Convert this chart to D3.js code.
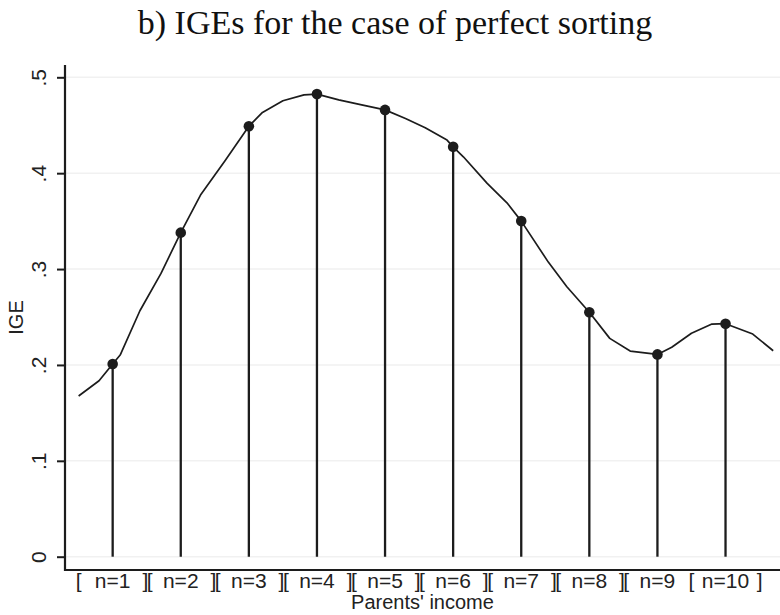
<!DOCTYPE html>
<html>
<head>
<meta charset="utf-8">
<script src="https://cdn.jsdelivr.net/npm/d3@7"></script>
<style>
  body { margin: 0; background: #fff; }
  text { font-family: "Liberation Sans", Arial, sans-serif; fill: #222; }
  .title { font-family: "Liberation Serif", "DejaVu Serif", serif; }
</style>
</head>
<body>
<div id="chart"></div>
<script>
// IGE at each income group (stems + dots)
var groups = [1, 2, 3, 4, 5, 6, 7, 8, 9, 10];
var groupIGE = [0.201, 0.338, 0.449, 0.4825, 0.466, 0.4275, 0.350, 0.255, 0.211, 0.243];

// the continuous IGE curve, x in group units
var curveX = [0.50, 0.80, 1.00, 1.11, 1.40, 1.71, 2.00, 2.29, 2.65, 3.00, 3.20, 3.50, 3.81, 4.00,
              4.32, 4.64, 5.00, 5.30, 5.59, 5.91, 6.00, 6.15, 6.50, 6.79, 7.00, 7.40, 7.67, 8.00,
              8.30, 8.60, 9.00, 9.21, 9.50, 9.80, 10.00, 10.40, 10.70];
var curveY = [0.1676, 0.1835, 0.201, 0.2103, 0.2565, 0.2955, 0.338, 0.3772, 0.413, 0.449, 0.4634, 0.4755, 0.4817, 0.4825,
              0.4765, 0.4715, 0.466, 0.4571, 0.4473, 0.4345, 0.4275, 0.4171, 0.3894, 0.3691, 0.350, 0.307, 0.2815, 0.255,
              0.2277, 0.2145, 0.211, 0.2184, 0.233, 0.2426, 0.243, 0.2322, 0.2148];

// tick labels
var yTicks = [0, 0.1, 0.2, 0.3, 0.4, 0.5];
var yTickLabels = ["0", ".1", ".2", ".3", ".4", ".5"];
var xTickLabels = ["n=1", "n=2", "n=3", "n=4", "n=5", "n=6", "n=7", "n=8", "n=9", "n=10"];
// bracket marks at group boundaries
var bounds = [0.5, 1.5, 2.5, 3.5, 4.5, 5.5, 6.5, 7.5, 8.5, 9.5, 10.5];
var boundMarks = ["[", "][", "][", "][", "][", "][", "][", "][", "][", "[", "]"];

var width = 780, height = 615;
var margin = { top: 65, right: 0, bottom: 45, left: 65 };
var ink = "#1c1c1c";

var svg = d3.select("#chart").append("svg")
    .attr("width", width)
    .attr("height", height);

var x = d3.scaleLinear()
    .domain([0.3, 10.8])
    .range([margin.left, width - margin.right]);

var y = d3.scaleLinear()
    .domain([0, 0.5])
    .range([556.7, 77.3]);

// gridlines
svg.append("g")
    .selectAll("line")
    .data(yTicks)
    .enter().append("line")
    .attr("x1", margin.left)
    .attr("x2", width)
    .attr("y1", function(d) { return y(d); })
    .attr("y2", function(d) { return y(d); })
    .style("stroke", "#f1f1f1")
    .style("stroke-width", 1.5);

// y axis
var yAxis = svg.append("g")
    .attr("transform", "translate(" + margin.left + ",0)")
    .call(d3.axisLeft(y).tickValues(yTicks).tickSize(8)
        .tickFormat(function(d, i) { return yTickLabels[i]; }));
yAxis.select(".domain").remove();
yAxis.selectAll(".tick line").style("stroke", ink).style("stroke-width", 2);
yAxis.selectAll(".tick text")
    .attr("x", 0)
    .attr("y", 0)
    .attr("dy", null)
    .attr("transform", "translate(-19,0) rotate(-90)")
    .style("text-anchor", "middle")
    .style("font-size", "21px")
    .style("fill", "#222");

svg.append("line")
    .attr("x1", margin.left).attr("x2", margin.left)
    .attr("y1", margin.top).attr("y2", 571)
    .style("stroke", ink).style("stroke-width", 2.2);
svg.append("line")
    .attr("x1", margin.left - 1).attr("x2", width)
    .attr("y1", 570).attr("y2", 570)
    .style("stroke", ink).style("stroke-width", 2.2);

// stems
svg.append("g")
    .selectAll("line")
    .data(groups)
    .enter().append("line")
    .attr("x1", function(d) { return x(d); })
    .attr("x2", function(d) { return x(d); })
    .attr("y1", y(0))
    .attr("y2", function(d, i) { return y(groupIGE[i]); })
    .style("stroke", ink)
    .style("stroke-width", 2.3);

// curve
var line = d3.line()
    .x(function(d, i) { return x(curveX[i]); })
    .y(function(d) { return y(d); });
svg.append("path")
    .datum(curveY)
    .attr("d", line)
    .style("fill", "none")
    .style("stroke", ink)
    .style("stroke-width", 1.7)
    .style("stroke-linejoin", "round");

// dots
svg.append("g")
    .selectAll("circle")
    .data(groups)
    .enter().append("circle")
    .attr("cx", function(d) { return x(d); })
    .attr("cy", function(d, i) { return y(groupIGE[i]); })
    .attr("r", 5.3)
    .style("fill", ink);

// x tick labels
var labY = 588;
svg.append("g")
    .selectAll("text")
    .data(groups)
    .enter().append("text")
    .attr("x", function(d) { return x(d); })
    .attr("y", labY)
    .style("text-anchor", "middle")
    .style("font-size", "21px")
    .text(function(d, i) { return xTickLabels[i]; });

svg.append("g")
    .selectAll("text")
    .data(bounds)
    .enter().append("text")
    .attr("x", function(d) { return x(d); })
    .attr("y", labY)
    .style("text-anchor", "middle")
    .style("font-size", "21px")
    .style("letter-spacing", function(d, i) { return boundMarks[i].length > 1 ? "-1.5px" : null; })
    .text(function(d, i) { return boundMarks[i]; });

// axis titles
svg.append("text")
    .attr("x", (margin.left + width) / 2)
    .attr("y", 609)
    .style("text-anchor", "middle")
    .style("font-size", "20px")
    .text("Parents' income");

svg.append("text")
    .attr("transform", "translate(23," + ((margin.top + 570) / 2) + ") rotate(-90)")
    .style("text-anchor", "middle")
    .style("font-size", "20px")
    .text("IGE");

// title
svg.append("text")
    .attr("class", "title")
    .attr("x", 395)
    .attr("y", 34)
    .style("text-anchor", "middle")
    .style("font-size", "34px")
    .style("fill", "#111")
    .text("b) IGEs for the case of perfect sorting");
</script>
</body>
</html>
